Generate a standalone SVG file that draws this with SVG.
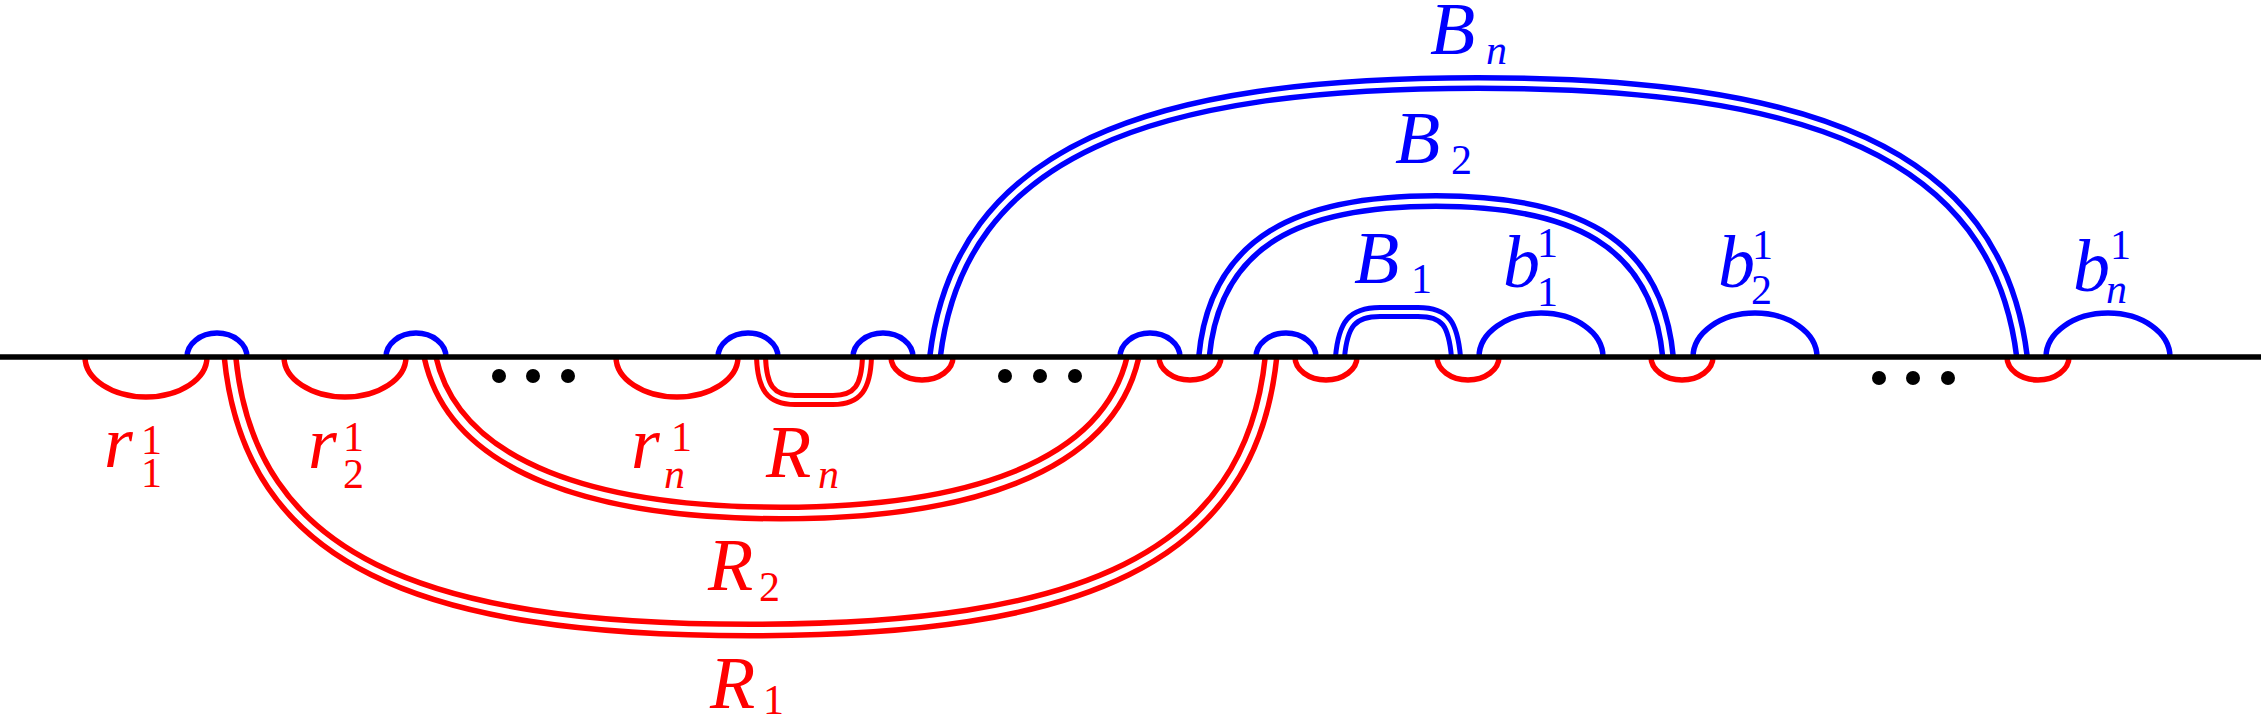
<svg xmlns="http://www.w3.org/2000/svg" width="2261" height="722" viewBox="0 0 2261 722">
<style>
.red{fill:none;stroke:#ff0000;stroke-width:5.5}
.blue{fill:none;stroke:#0000ff;stroke-width:5.5}
.rd{fill:none;stroke:#ff0000;stroke-width:17}
.bd{fill:none;stroke:#0000ff;stroke-width:16}
.gap{fill:none;stroke:#ffffff;stroke-width:6}
.base{stroke:#000000;stroke-width:5.5}
.m{font-size:74px;font-style:italic}
.s{font-size:42px;font-style:italic}
.up{font-style:normal}
</style>
<rect width="2261" height="722" fill="#ffffff"/>
<g id="connectors">
  <g id="R1"><path class="rd" d="M230,357 C250,560 420,630 750,630 C1080,630 1250,560 1271,357"/><path class="gap" d="M230,357 C250,560 420,630 750,630 C1080,630 1250,560 1271,357"/></g>
  <g id="R2"><path class="rd" d="M430,357 C455,470 600,513 781,513 C962,513 1107,470 1133,357"/><path class="gap" d="M430,357 C455,470 600,513 781,513 C962,513 1107,470 1133,357"/></g>
  <g id="Rn"><path class="rd" style="stroke-width:14" d="M761,357 C762,387 770,400 795,400 L833,400 C858,400 866,387 867,357"/><path class="gap" style="stroke-width:4" d="M761,357 C762,387 770,400 795,400 L833,400 C858,400 866,387 867,357"/></g>
  <g id="B1"><path class="bd" style="stroke-width:14" d="M1340,357 C1343,324 1352,312 1380,312 L1418,312 C1446,312 1453,324 1456,357"/><path class="gap" style="stroke-width:4" d="M1340,357 C1343,324 1352,312 1380,312 L1418,312 C1446,312 1453,324 1456,357"/></g>
  <g id="B2"><path class="bd" d="M1204,357 C1215,240 1300,201 1436,201 C1572,201 1657,240 1668,357"/><path class="gap" style="stroke-width:5" d="M1204,357 C1215,240 1300,201 1436,201 C1572,201 1657,240 1668,357"/></g>
  <g id="Bn"><path class="bd" d="M935,357 C960,150 1150,83 1478,83 C1806,83 1997,150 2022,357"/><path class="gap" style="stroke-width:5" d="M935,357 C960,150 1150,83 1478,83 C1806,83 1997,150 2022,357"/></g>
</g>
<g id="red-arcs">
  <path id="r1" class="red" d="M85,357 A61,40 0 0 0 207,357"/>
  <path id="r2" class="red" d="M284,357 A61,40 0 0 0 406,357"/>
  <path id="rn" class="red" d="M616,357 A61,40 0 0 0 738,357"/>
  <path class="red" d="M891,357 A31,23 0 0 0 953,357"/>
  <path class="red" d="M1159,357 A31,23 0 0 0 1221,357"/>
  <path class="red" d="M1295,357 A31,23 0 0 0 1357,357"/>
  <path class="red" d="M1437,357 A31,23 0 0 0 1499,357"/>
  <path class="red" d="M1651,357 A31,23 0 0 0 1713,357"/>
  <path class="red" d="M2007,357 A31,23 0 0 0 2069,357"/>
</g>
<g id="blue-arcs">
  <path class="blue" d="M187,357 A30,24 0 0 1 247,357"/>
  <path class="blue" d="M386,357 A30,24 0 0 1 446,357"/>
  <path class="blue" d="M718,357 A30,24 0 0 1 778,357"/>
  <path class="blue" d="M853,357 A30,24 0 0 1 913,357"/>
  <path class="blue" d="M1120,357 A30,24 0 0 1 1180,357"/>
  <path class="blue" d="M1256,357 A30,24 0 0 1 1316,357"/>
  <path id="b1" class="blue" d="M1479,357 A62,44 0 0 1 1603,357"/>
  <path id="b2" class="blue" d="M1693,357 A62,44 0 0 1 1817,357"/>
  <path id="bn" class="blue" d="M2046,357 A62,44 0 0 1 2170,357"/>
</g>
<g id="baseline"><line class="base" x1="0" y1="357" x2="2261" y2="357"/></g>
<g id="dots">
  <circle cx="499" cy="376" r="7"/><circle cx="533" cy="376" r="7"/><circle cx="568" cy="376" r="7"/>
  <circle cx="1005" cy="376" r="7"/><circle cx="1040" cy="376" r="7"/><circle cx="1075" cy="376" r="7"/>
  <circle cx="1879" cy="378" r="7"/><circle cx="1913" cy="378" r="7"/><circle cx="1948" cy="378" r="7"/>
</g>
<g id="labels-red" fill="#ff0000" font-family="Liberation Serif, serif">
  <g id="label-r1"><text class="m" x="104" y="467">r</text><text class="s up" x="141" y="454">1</text><text class="s up" x="141" y="487">1</text></g>
  <g id="label-r2"><text class="m" x="308" y="468">r</text><text class="s up" x="343" y="451">1</text><text class="s up" x="343" y="488">2</text></g>
  <g id="label-rn"><text class="m" x="631" y="468">r</text><text class="s up" x="671" y="451">1</text><text class="s" x="664" y="488">n</text></g>
  <g id="label-Rn"><text class="m" x="766" y="477">R</text><text class="s" x="818" y="488">n</text></g>
  <g id="label-R2"><text class="m" x="708" y="590">R</text><text class="s up" x="759" y="601">2</text></g>
  <g id="label-R1"><text class="m" x="710" y="708">R</text><text class="s up" x="763" y="714">1</text></g>
</g>
<g id="labels-blue" fill="#0000ff" font-family="Liberation Serif, serif">
  <g id="label-B1"><text class="m" x="1354" y="283">B</text><text class="s up" x="1411" y="293">1</text></g>
  <g id="label-b1"><text class="m" x="1503" y="287">b</text><text class="s up" x="1537" y="257">1</text><text class="s up" x="1537" y="306">1</text></g>
  <g id="label-b2"><text class="m" x="1718" y="287">b</text><text class="s up" x="1752" y="259">1</text><text class="s up" x="1751" y="304">2</text></g>
  <g id="label-bn"><text class="m" x="2073" y="291">b</text><text class="s up" x="2110" y="259">1</text><text class="s" x="2106" y="303">n</text></g>
  <g id="label-B2"><text class="m" x="1395" y="163">B</text><text class="s up" x="1451" y="174">2</text></g>
  <g id="label-Bn"><text class="m" x="1430" y="54">B</text><text class="s" x="1486" y="64">n</text></g>
</g>
</svg>
